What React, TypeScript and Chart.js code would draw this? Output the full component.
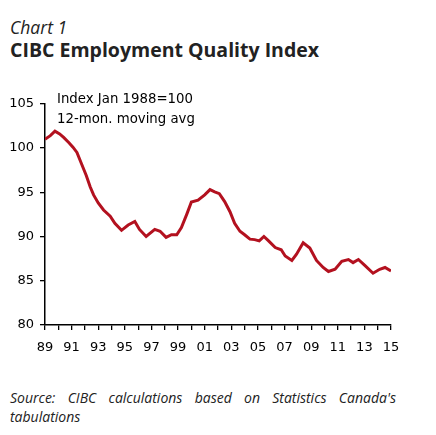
import React, { useEffect, useRef } from "react";
import { Chart, registerables } from "chart.js";

Chart.register(...registerables);

const years: number[] = [
  1989.0, 1989.4, 1989.75, 1990.1, 1990.4, 1990.8, 1991.1, 1991.4, 1991.75, 1992.1,
  1992.4, 1992.65, 1993.0, 1993.4, 1993.9, 1994.25, 1994.75, 1995.25, 1995.75, 1996.1,
  1996.6, 1997.25, 1997.65, 1998.1, 1998.5, 1998.9, 1999.25, 1999.65, 2000.0, 2000.5,
  2001.0, 2001.4, 2001.75, 2002.1, 2002.5, 2002.9, 2003.25, 2003.65, 2004.0, 2004.4,
  2004.75, 2005.1, 2005.45, 2005.8, 2006.3, 2006.75, 2007.05, 2007.55, 2007.9, 2008.4,
  2008.9, 2009.4, 2009.9, 2010.3, 2010.8, 2011.3, 2011.8, 2012.15, 2012.55, 2013.05,
  2013.65, 2014.15, 2014.55, 2015.0,
];

const indexValues: number[] = [
  101.0, 101.4, 101.9, 101.6, 101.2, 100.6, 100.1, 99.5, 98.2, 96.9,
  95.6, 94.7, 93.8, 93.0, 92.3, 91.5, 90.7, 91.3, 91.7, 90.8,
  90.0, 90.8, 90.6, 89.9, 90.2, 90.2, 91.0, 92.5, 93.9, 94.1,
  94.7, 95.3, 95.05, 94.85, 93.95, 92.8, 91.5, 90.6, 90.2, 89.7,
  89.65, 89.5, 90.0, 89.5, 88.75, 88.5, 87.8, 87.3, 88.0, 89.3,
  88.7, 87.3, 86.5, 86.05, 86.3, 87.2, 87.4, 87.05, 87.4, 86.7,
  85.85, 86.3, 86.5, 86.1,
];

const yMin = 80;
const yMax = 105;
const yStep = 5;
const xMin = 1989;
const xMax = 2015;

const chartLabel = "Chart 1";
const chartTitle = "CIBC Employment Quality Index";
const noteLines = ["Index Jan 1988=100", "12-mon. moving avg"];
const sourceText = "Source: CIBC calculations based on Statistics Canada's tabulations";

export default function App() {
  const canvasRef = useRef<HTMLCanvasElement | null>(null);

  useEffect(() => {
    const canvas = canvasRef.current;
    if (!canvas) return;
    const axisFont = { family: "DejaVu Sans", size: 13 };
    const chart = new Chart(canvas, {
      type: "line",
      data: {
        datasets: [
          {
            data: years.map((x, i) => ({ x, y: indexValues[i] })),
            borderColor: "#B3111F",
            borderWidth: 3,
            pointRadius: 0,
            tension: 0,
            fill: false,
          },
        ],
      },
      options: {
        animation: false,
        responsive: false,
        maintainAspectRatio: false,
        layout: { padding: { top: 11, right: 29, left: 0, bottom: 0 } },
        plugins: { legend: { display: false }, tooltip: { enabled: false } },
        scales: {
          x: {
            type: "linear",
            min: xMin,
            max: xMax,
            afterFit: (s: any) => {
              s.height = 45;
            },
            grid: {
              drawOnChartArea: false,
              drawTicks: true,
              tickLength: 5,
              color: "#000",
              lineWidth: 1.3,
            },
            border: { display: true, color: "#000", width: 1.5 },
            ticks: {
              stepSize: 1,
              autoSkip: false,
              maxRotation: 0,
              color: "#000",
              font: axisFont,
              padding: 10,
              callback: (v: any) => {
                const n = Number(v);
                if (n % 2 !== 1) return "";
                return String(n % 100).padStart(2, "0");
              },
            },
          },
          y: {
            min: yMin,
            max: yMax,
            afterFit: (s: any) => {
              s.width = 45;
            },
            grid: {
              drawOnChartArea: false,
              drawTicks: true,
              tickLength: 5,
              color: "#000",
              lineWidth: 1.3,
            },
            border: { display: true, color: "#000", width: 1.5 },
            ticks: {
              stepSize: yStep,
              color: "#000",
              font: axisFont,
              padding: 6,
            },
          },
        },
      },
    });
    return () => chart.destroy();
  }, []);

  return (
    <div
      style={{
        position: "absolute",
        left: 0,
        top: 0,
        width: 436,
        height: 435,
        background: "#fff",
        overflow: "hidden",
      }}
    >
      <div
        style={{
          position: "absolute",
          left: 10,
          top: 16,
          fontFamily: "'Open Sans', sans-serif",
          fontStyle: "italic",
          fontSize: 17.5,
          color: "#222",
          lineHeight: "22px",
        }}
      >
        {chartLabel}
      </div>
      <div
        style={{
          position: "absolute",
          left: 10,
          top: 38,
          fontFamily: "'Open Sans', sans-serif",
          fontWeight: 700,
          fontSize: 19.5,
          color: "#222",
          lineHeight: "24px",
          whiteSpace: "nowrap",
        }}
      >
        {chartTitle}
      </div>
      <canvas
        ref={canvasRef}
        width={420}
        height={280}
        style={{ position: "absolute", left: 0, top: 90, width: 420, height: 280 }}
      />
      <div
        style={{
          position: "absolute",
          left: 57,
          top: 89,
          fontFamily: "'DejaVu Sans', sans-serif",
          fontSize: 13.3,
          color: "#000",
          lineHeight: "20px",
        }}
      >
        {noteLines.map((t) => (
          <div key={t}>{t}</div>
        ))}
      </div>
      <div
        style={{
          position: "absolute",
          left: 10,
          top: 388,
          width: 386,
          fontFamily: "'Open Sans', sans-serif",
          fontStyle: "italic",
          fontSize: 14,
          color: "#222",
          lineHeight: "19px",
          textAlign: "justify",
        }}
      >
        {sourceText}
      </div>
    </div>
  );
}
